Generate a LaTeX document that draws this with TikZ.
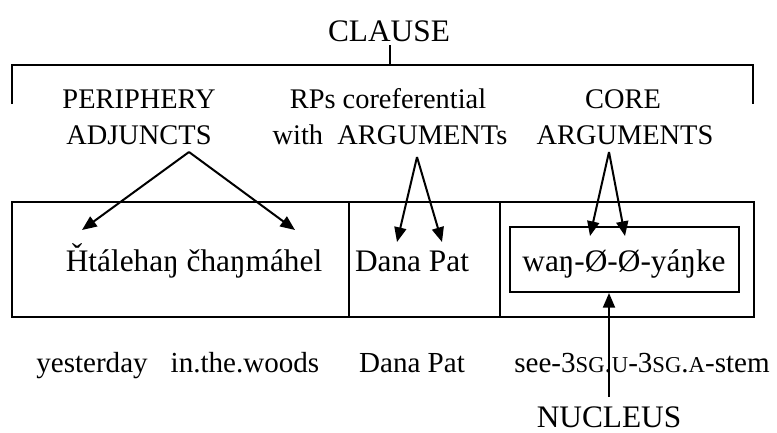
\documentclass[tikz,border=0pt]{standalone}
\usepackage{fontspec}
\setmainfont{Liberation Serif}
\usetikzlibrary{arrows.meta}
% small capitals for the gloss abbreviations
\newcommand{\glosssc}[1]{{\fontsize{17pt}{17pt}\selectfont #1}}
\begin{document}
\begin{tikzpicture}[x=0.75pt,y=-0.75pt,
  line width=1.5pt,
  lbl/.style={anchor=base,inner sep=0pt,font=\fontsize{21.3pt}{24pt}\selectfont},
  glosslbl/.style={lbl,font=\fontsize{21.8pt}{24pt}\selectfont},
  biglbl/.style={lbl,font=\fontsize{23.5pt}{26pt}\selectfont},
  tip/.style={-{Triangle[length=11pt,width=9pt]}},
  cell/.style={draw,line width=1.5pt}]
\useasboundingbox (0,0) rectangle (777,432);

% bracket spanning the whole clause
\node[biglbl] (clause) at (389,41) {CLAUSE};
\coordinate (clausefoot) at (390,45);
\coordinate (brmid) at (390,65);
\coordinate (brl) at (12,65);
\coordinate (brr) at (753,65);
\draw (clausefoot) -- (brmid);
\draw (12,104) -- (brl) -- (brr) -- (753,104);

% category labels
\node[lbl] (peri1) at (139,108) {PERIPHERY};
\node[lbl] (peri2) at (139,144) {ADJUNCTS};
\node[lbl] (rp1) at (388,108) {RPs coreferential};
\node[lbl] (rp2) at (390,144) {with\ \ ARGUMENTs};
\node[lbl] (core1) at (623,108) {CORE};
\node[lbl] (core2) at (625,144) {ARGUMENTS};

% clause row
\node[cell,minimum width=337*0.75pt,minimum height=115*0.75pt,inner sep=0pt,anchor=north west] (perbox) at (11,201) {};
\node[cell,minimum width=151*0.75pt,minimum height=115*0.75pt,inner sep=0pt,anchor=north west] (rpbox) at (348,201) {};
\node[cell,minimum width=254*0.75pt,minimum height=115*0.75pt,inner sep=0pt,anchor=north west] (corebox) at (499,201) {};
\node[cell,minimum width=229*0.75pt,minimum height=65*0.75pt,inner sep=0pt,anchor=north west] (nucbox) at (509,226) {};

\node[biglbl] (lak1) at (194,271) {Ȟtálehaŋ čhaŋmáhel};
\node[biglbl] (dana) at (412,271) {Dana Pat};
\node[biglbl] (verb) at (624,271) {waŋ-Ø-Ø-yáŋke};

% arrows from the labels
\coordinate (aperi) at (189,152);
\coordinate (tperiL) at (82,230);
\coordinate (tperiR) at (295,230);
\draw[tip] (aperi) -- (tperiL);
\draw[tip] (aperi) -- (tperiR);

\coordinate (arp) at (417,157);
\coordinate (trpL) at (397,242);
\coordinate (trpR) at (442,242);
\draw[tip] (arp) -- (trpL);
\draw[tip] (arp) -- (trpR);

\coordinate (acore) at (609,152);
\coordinate (tcoreL) at (590,236);
\coordinate (tcoreR) at (625,236);
\draw[tip] (acore) -- (tcoreL);
\draw[tip] (acore) -- (tcoreR);

% glosses
\node[glosslbl] (g1) at (92,372) {yesterday};
\node[glosslbl] (g2) at (245,372) {in.the.woods};
\node[glosslbl] (g3) at (412,372) {Dana Pat};
\node[glosslbl] (g4) at (642,372) {see-3\glosssc{SG}.\glosssc{U}-3\glosssc{SG}.\glosssc{A}-stem};

% nucleus
\node[biglbl] (nuc) at (609,427) {NUCLEUS};
\coordinate (nucfoot) at (609,397);
\draw[tip] (nucfoot) -- (nucbox.south -| nucfoot);
\end{tikzpicture}
\end{document}
